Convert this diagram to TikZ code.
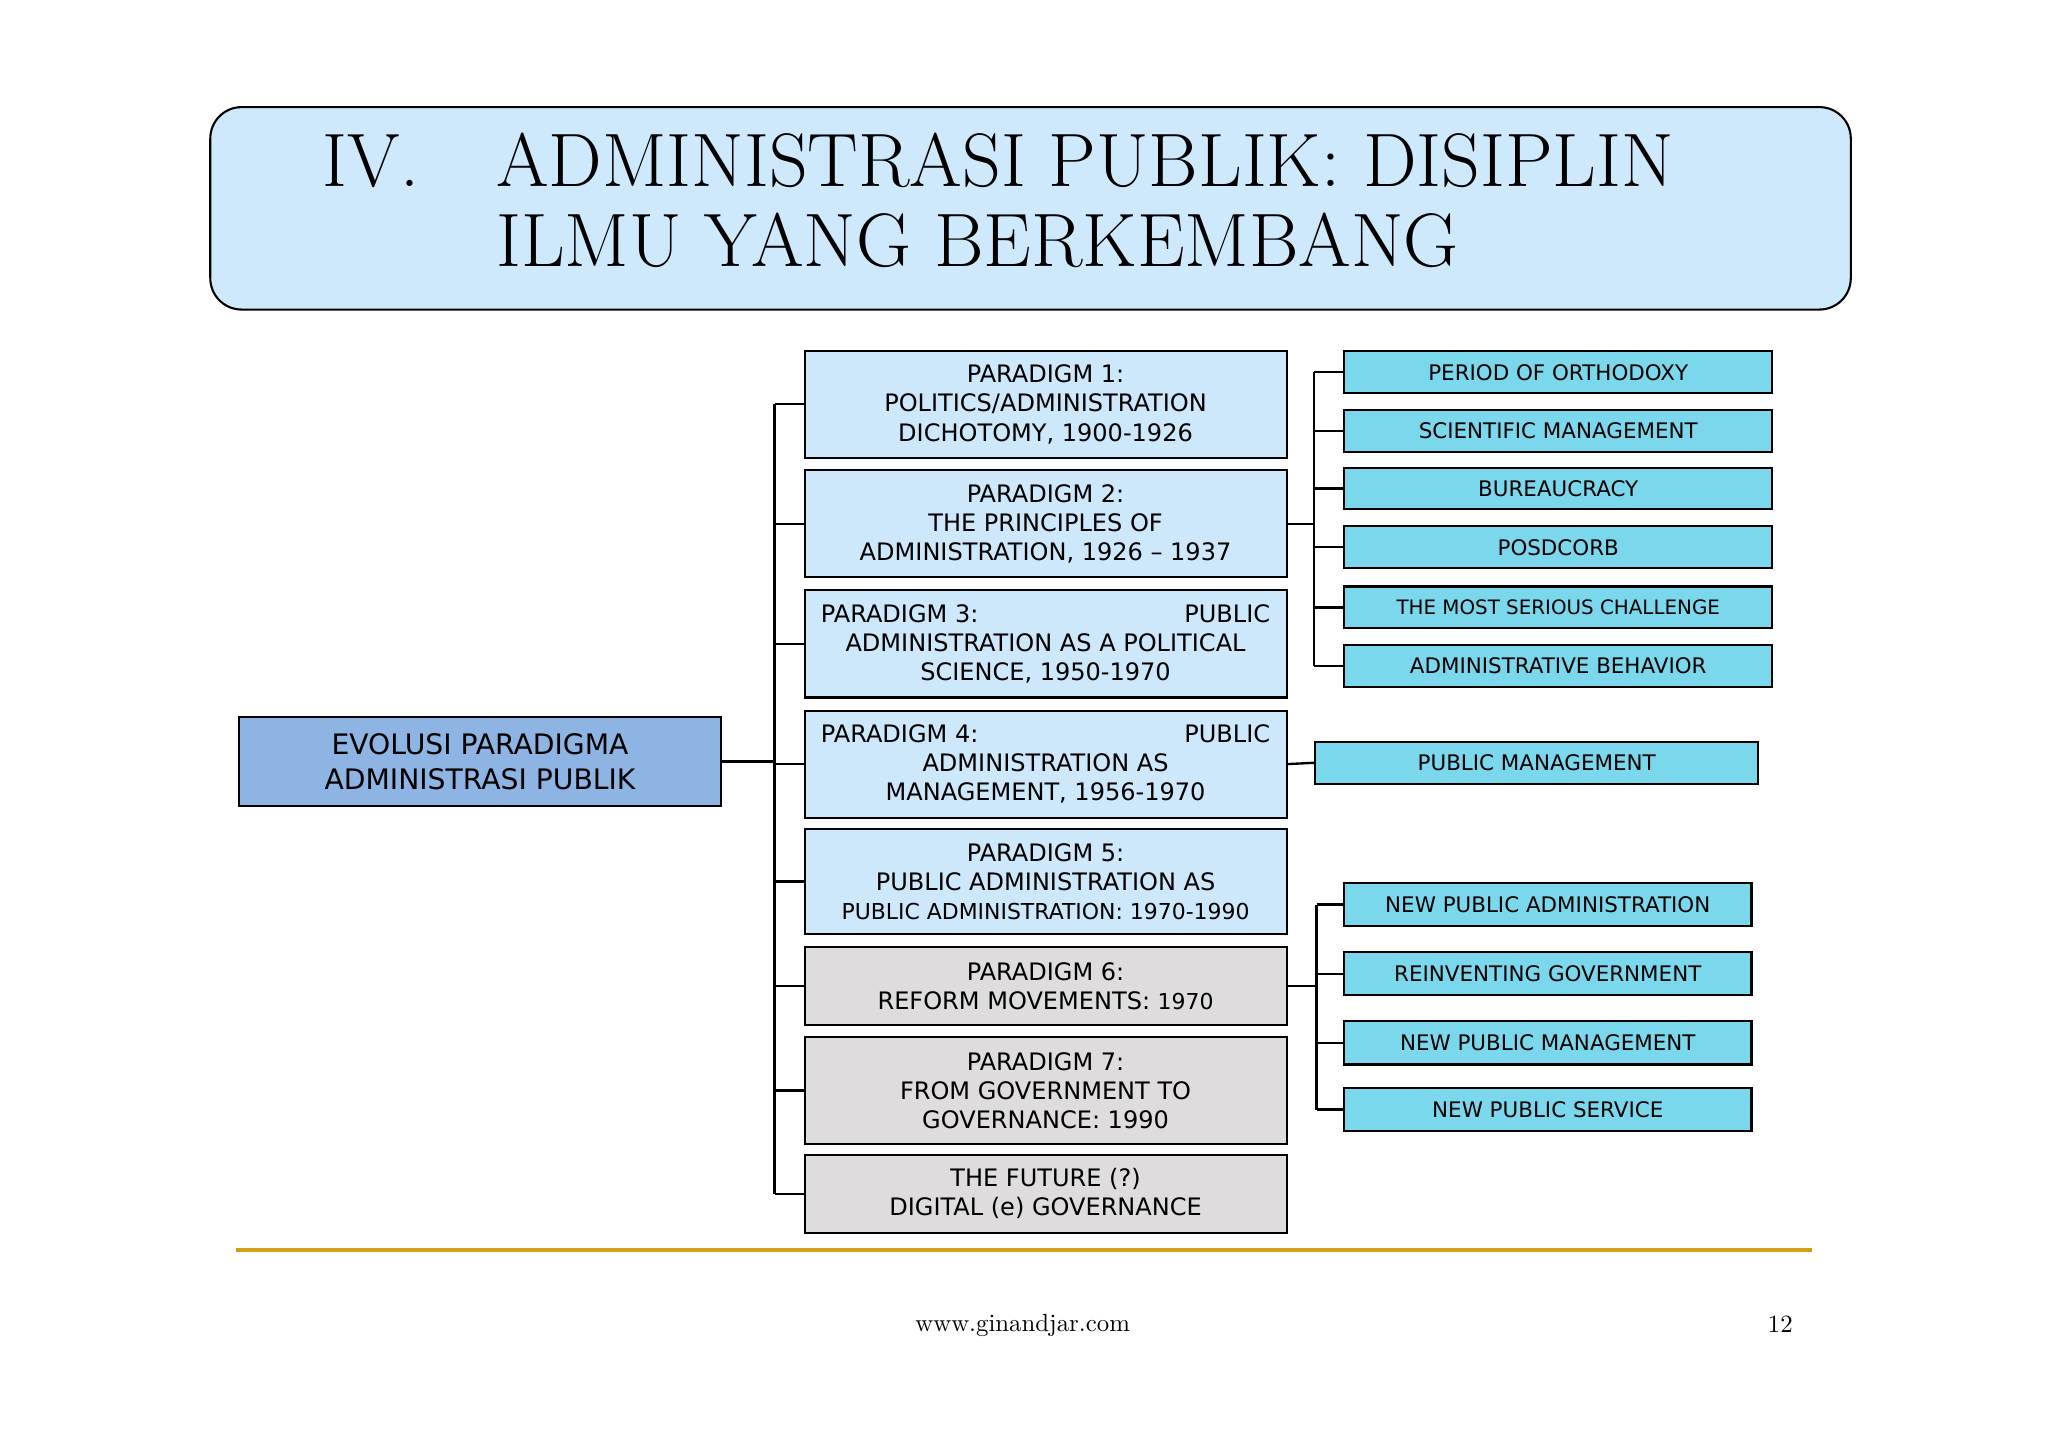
\documentclass[tikz,border=0pt]{standalone}
\usepackage{fontspec}
\newfontfamily\vfont{DejaVu Sans}
\definecolor{titlebg}{HTML}{CDE9FB}
\definecolor{pbox}{HTML}{CCE8FA}
\definecolor{gbox}{HTML}{DEDCDD}
\definecolor{cbox}{HTML}{7AD7EC}
\definecolor{mbox}{HTML}{8DB4E2}
\definecolor{gold}{HTML}{D4A017}
\begin{document}
\begin{tikzpicture}[x=0.5pt,y=-0.5pt,
  pbx/.style={draw=black,line width=0.8pt,fill=pbox,minimum width=184.5pt,minimum height=41pt,inner sep=2pt,align=center,font=\vfont\fontsize{9.2}{11.2}\selectfont},
  cbx/.style={draw=black,line width=0.8pt,fill=cbox,minimum width=164pt,minimum height=16pt,inner sep=1pt,font=\vfont\fontsize{8.2}{10}\selectfont},
  ln/.style={line width=0.9pt}]
\useasboundingbox (0,0) rectangle (1568,1109);
\fill[white] (0,0) rectangle (1568,1109);
% title
\draw[line width=0.8pt,fill=titlebg,rounded corners=12pt] (161,82) rectangle (1417,237);
\node[anchor=base west,font=\fontsize{29}{32}\selectfont] (t1) at (240,143) {IV.};
\node[anchor=base west,font=\fontsize{29}{32}\selectfont] (t2) at (373,143) {ADMINISTRASI PUBLIK: DISIPLIN};
\node[anchor=base west,font=\fontsize{29}{32}\selectfont] (t3) at (373,204) {ILMU YANG BERKEMBANG};
% main
\node[draw=black,line width=0.8pt,fill=mbox,minimum width=184.5pt,minimum height=34pt,align=center,font=\vfont\fontsize{10.8}{13.5}\selectfont] (main) at (367.5,583) {EVOLUSI PARADIGMA\\ADMINISTRASI PUBLIK};
% paradigms
\node[pbx] (p1) at (800.5,309.5) {PARADIGM 1:\\POLITICS/ADMINISTRATION\\DICHOTOMY, 1900-1926};
\node[pbx] (p2) at (800.5,401) {PARADIGM 2:\\THE PRINCIPLES OF\\ADMINISTRATION, 1926 – 1937};
\node[pbx] (p3) at (800.5,493) {\parbox{172pt}{\centering\makebox[172pt]{PARADIGM 3:\hfill PUBLIC}\\ADMINISTRATION AS A POLITICAL\\SCIENCE, 1950-1970}};
\node[pbx] (p4) at (800.5,585) {\parbox{172pt}{\centering\makebox[172pt]{PARADIGM 4:\hfill PUBLIC}\\ADMINISTRATION AS\\MANAGEMENT, 1956-1970}};
\node[pbx,minimum height=40pt] (p5) at (800.5,675) {PARADIGM 5:\\PUBLIC ADMINISTRATION AS\\{\fontsize{8.4}{10}\selectfont PUBLIC ADMINISTRATION: 1970-1990}};
\node[pbx,fill=gbox,minimum height=30pt] (p6) at (800.5,755) {PARADIGM 6:\\REFORM MOVEMENTS: {\fontsize{8.4}{10}\selectfont 1970}};
\node[pbx,fill=gbox] (p7) at (800.5,835) {PARADIGM 7:\\FROM GOVERNMENT TO\\GOVERNANCE: 1990};
\node[pbx,fill=gbox,minimum height=30pt] (fu) at (800.5,914) {THE FUTURE (?)\\DIGITAL (e) GOVERNANCE};
% group 1
\node[cbx] (a1) at (1193,285) {PERIOD OF ORTHODOXY};
\node[cbx] (a2) at (1193,330) {SCIENTIFIC MANAGEMENT};
\node[cbx] (a3) at (1193,374) {BUREAUCRACY};
\node[cbx] (a4) at (1193,419) {POSDCORB};
\node[cbx] (a5) at (1193,465) {{\fontsize{7.6}{9}\selectfont THE MOST SERIOUS CHALLENGE}};
\node[cbx] (a6) at (1193,510) {ADMINISTRATIVE BEHAVIOR};
\node[cbx,minimum width=169.5pt] (pm) at (1176.5,584) {PUBLIC MANAGEMENT};
\node[cbx,minimum width=156pt,minimum height=16.5pt] (b1) at (1185,692.5) {NEW PUBLIC ADMINISTRATION};
\node[cbx,minimum width=156pt,minimum height=16.5pt] (b2) at (1185,745.5) {REINVENTING GOVERNMENT};
\node[cbx,minimum width=156pt,minimum height=16.5pt] (b3) at (1185,798.5) {NEW PUBLIC MANAGEMENT};
\node[cbx,minimum width=156pt,minimum height=16.5pt] (b4) at (1185,849.5) {NEW PUBLIC SERVICE};
% connectors left
\coordinate (bx) at (593,0);
\draw[ln] (main.east) -- (main.east -| bx);
\draw[ln] (p1.west -| bx) -- (fu.west -| bx);
\foreach \n in {p1,p2,p3,p4,p5,p6,p7,fu} \draw[ln] (\n.west -| bx) -- (\n.west);
% group 1 connectors
\coordinate (ax) at (1006,0);
\draw[ln] (p2.east) -- (p2.east -| ax);
\draw[ln] (a1.west -| ax) -- (a6.west -| ax);
\foreach \n in {a1,a2,a3,a4,a5,a6} \draw[ln] (\n.west -| ax) -- (\n.west);
\draw[ln] (p4.east) -- (pm.west);
\coordinate (cx) at (1008,0);
\draw[ln] (p6.east) -- (p6.east -| cx);
\draw[ln] (b1.west -| cx) -- (b4.west -| cx);
\foreach \n in {b1,b2,b3,b4} \draw[ln] (\n.west -| cx) -- (\n.west);
% footer
\draw[gold,line width=1.5pt] (181,957) -- (1387,957);
\node[font=\fontsize{9.5}{11}\selectfont] (web) at (783,1015) {www.ginandjar.com};
\node[font=\fontsize{9.5}{11}\selectfont] (pg) at (1363,1014) {12};
\end{tikzpicture}
\end{document}
